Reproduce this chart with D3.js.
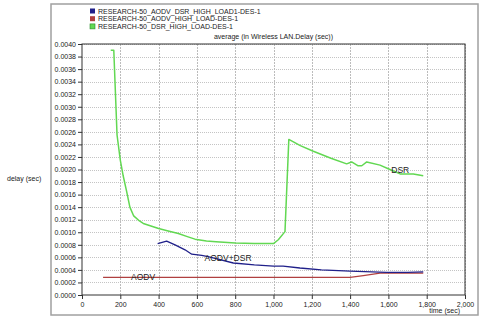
<!DOCTYPE html>
<html><head><meta charset="utf-8">
<script src="https://cdn.jsdelivr.net/npm/d3@7"></script>
<style>
body{margin:0;background:#fff;}
svg{display:block;font-family:"Liberation Sans",Arial,sans-serif;}
</style></head>
<body>
<svg id="c" width="483" height="320"></svg>
<script>
const legendNames = ["RESEARCH-50_AODV_DSR_HIGH_LOAD1-DES-1","RESEARCH-50_AODV_HIGH_LOAD-DES-1","RESEARCH-50_DSR_HIGH_LOAD-DES-1"];
const seriesColors = ["#20208a","#b04040","#62d852"];
const xTicks = [0,200,400,600,800,1000,1200,1400,1600,1800,2000];
const yTicks = d3.range(0,21).map(i=>i*0.0002);
const chartTitle = "average (in Wireless LAN.Delay (sec))";

const aodvDsr = [[395,0.00082],[442,0.00086],[486,0.00080],[538,0.00072],[573,0.00065],[625,0.00063],[658,0.00061],[700,0.00058],[790,0.00051],[900,0.00048],[1000,0.00046],[1050,0.00046],[1138,0.00043],[1250,0.00040],[1399,0.00038],[1591,0.00036],[1700,0.00036],[1782,0.00037]];
const aodv = [[110,0.00028],[400,0.00028],[800,0.00028],[1200,0.00028],[1400,0.00028],[1469,0.00031],[1556,0.00035],[1650,0.00035],[1782,0.00035]];
const dsr = [[150,0.00390],[166,0.00390],[183,0.00255],[200,0.00215],[215,0.00190],[233,0.00165],[250,0.00140],[270,0.00126],[300,0.00118],[320,0.00114],[360,0.00110],[400,0.00106],[450,0.00102],[503,0.00098],[550,0.00093],[590,0.00089],[650,0.00086],[700,0.00085],[800,0.00083],[900,0.00082],[1000,0.00082],[1025,0.00088],[1060,0.00101],[1080,0.00248],[1140,0.00238],[1208,0.00229],[1300,0.00218],[1382,0.00209],[1408,0.00212],[1440,0.00206],[1461,0.00206],[1487,0.00212],[1556,0.00207],[1608,0.00200],[1661,0.00193],[1730,0.00193],[1782,0.00190]];
const curveLabels = [{text:"DSR",t:1615,v:0.00194},{text:"AODV+DSR",t:640,v:0.00054},{text:"AODV",t:256,v:0.00024}];

const svg = d3.select("#c");
const L=82,R=465,T=44,B=295;
const x = d3.scaleLinear().domain([0,2000]).range([L,R]);
const y = d3.scaleLinear().domain([0,0.004]).range([B,T]);

// outer frame
svg.append("rect").attr("x",51).attr("y",4).attr("width",427).attr("height",311)
  .attr("fill","none").attr("stroke","#a0a0a0").attr("stroke-width",1.5);

// legend
legendNames.forEach((n,i)=>{
  const yy = 11 + i*7.7;
  svg.append("rect").attr("x",90).attr("y",yy-2.5).attr("width",5).attr("height",5)
    .attr("fill",seriesColors[i]).attr("stroke", i==2?"#2a8a2a":"none").attr("stroke-width",0.6);
  svg.append("text").attr("x",98).attr("y",yy+2.5).attr("font-size",7).attr("fill","#222").text(n);
});

// title
svg.append("text").attr("x",(L+R)/2).attr("y",39).attr("text-anchor","middle").attr("font-size",7).attr("fill","#222").text(chartTitle);

// grid
svg.append("g").selectAll("line").data(yTicks.slice(1)).join("line")
  .attr("x1",L).attr("x2",R).attr("y1",d=>Math.round(y(d))+0.5).attr("y2",d=>Math.round(y(d))+0.5)
  .attr("stroke","#c4c4c4").attr("stroke-dasharray","1,1");
svg.append("g").selectAll("line").data(xTicks.slice(1)).join("line")
  .attr("y1",T).attr("y2",B).attr("x1",d=>Math.round(x(d))+0.5).attr("x2",d=>Math.round(x(d))+0.5)
  .attr("stroke","#bcbcbc").attr("stroke-dasharray","2,1");

// axes
const yAxis = d3.axisLeft(y).tickValues(yTicks).tickFormat(d3.format(".4f")).tickSize(4).tickPadding(2);
const xAxis = d3.axisBottom(x).tickValues(xTicks).tickFormat(d3.format(",")).tickSize(4).tickPadding(3);
const gy = svg.append("g").attr("transform",`translate(${L},0)`).call(yAxis);
const gx = svg.append("g").attr("transform",`translate(0,${B})`).call(xAxis);
[gy,gx].forEach(g=>{
  g.selectAll("text").attr("font-size",7).attr("fill","#222").attr("font-family","Liberation Sans,Arial,sans-serif");
  g.selectAll("line").attr("stroke","#333");
  g.select(".domain").attr("stroke","none");
});
svg.append("rect").attr("x",L).attr("y",T).attr("width",R-L).attr("height",B-T)
  .attr("fill","none").attr("stroke","#333").attr("stroke-width",1);

// axis titles
svg.append("text").attr("x",7).attr("y",181).attr("font-size",7).attr("fill","#222").text("delay (sec)");
svg.append("text").attr("x",460).attr("y",313).attr("text-anchor","end").attr("font-size",7).attr("fill","#222").text("time (sec)");

// lines
const line = d3.line().x(d=>x(d[0])).y(d=>y(d[1]));
[[dsr,2,1.5],[aodv,1,1.3],[aodvDsr,0,1.3]].forEach(([data,ci,w])=>{
  svg.append("path").datum(data).attr("d",line).attr("fill","none")
    .attr("stroke",seriesColors[ci]).attr("stroke-width",w).attr("stroke-linejoin","round");
});

// curve labels
curveLabels.forEach(c=>{
  svg.append("text").attr("x",x(c.t)).attr("y",y(c.v)).attr("font-size",8.5).attr("fill","#222").text(c.text);
});
</script>
</body></html>
